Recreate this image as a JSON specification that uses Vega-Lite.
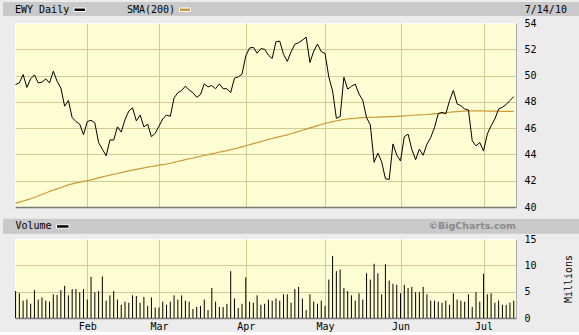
{
  "$schema": "https://vega.github.io/schema/vega-lite/v6.json",
  "background": "#ececec",
  "padding": {"left": 2, "top": 1, "right": 0, "bottom": 0},
  "spacing": 5,
  "config": {
    "view": {"fill": "#fdfdd4", "stroke": "#ffffff", "strokeWidth": 1},
    "axis": {"ticks": false, "labelFont": "DejaVu Sans Mono", "labelFontSize": 10, "labelColor": "#000000", "gridColor": "#cfcb95", "gridWidth": 1, "labelFlush": false, "labelOverlap": false, "labelBound": false, "domainColor": "#999999", "titleFont": "DejaVu Sans Mono"},
    "text": {"font": "DejaVu Sans Mono", "fontSize": 10, "color": "#000000"}
  },
  "datasets": {
    "ewy": [
      {"date":"2010-01-04","close":49.32,"sma":40.28,"volume":5.1},
      {"date":"2010-01-05","close":49.44,"sma":40.37,"volume":4.7},
      {"date":"2010-01-06","close":50.08,"sma":40.46,"volume":3.3},
      {"date":"2010-01-07","close":49.1,"sma":40.54,"volume":3.5},
      {"date":"2010-01-08","close":49.75,"sma":40.63,"volume":2.7},
      {"date":"2010-01-11","close":50.05,"sma":40.72,"volume":5.3},
      {"date":"2010-01-12","close":49.44,"sma":40.84,"volume":3.5},
      {"date":"2010-01-13","close":49.5,"sma":40.95,"volume":3.9},
      {"date":"2010-01-14","close":49.75,"sma":41.07,"volume":3.3},
      {"date":"2010-01-15","close":49.44,"sma":41.18,"volume":3.1},
      {"date":"2010-01-19","close":50.33,"sma":41.28,"volume":4.5},
      {"date":"2010-01-20","close":49.57,"sma":41.38,"volume":4.4},
      {"date":"2010-01-21","close":49.06,"sma":41.48,"volume":5.3},
      {"date":"2010-01-22","close":47.67,"sma":41.58,"volume":6.1},
      {"date":"2010-01-25","close":48.1,"sma":41.68,"volume":4.3},
      {"date":"2010-01-26","close":46.8,"sma":41.76,"volume":5.5},
      {"date":"2010-01-27","close":46.5,"sma":41.83,"volume":5.5},
      {"date":"2010-01-28","close":46.3,"sma":41.89,"volume":4.9},
      {"date":"2010-01-29","close":45.5,"sma":41.95,"volume":5.5},
      {"date":"2010-02-01","close":46.5,"sma":42.0,"volume":3.5},
      {"date":"2010-02-02","close":46.6,"sma":42.07,"volume":7.8},
      {"date":"2010-02-03","close":46.4,"sma":42.14,"volume":4.9},
      {"date":"2010-02-04","close":44.9,"sma":42.22,"volume":5.1},
      {"date":"2010-02-05","close":44.4,"sma":42.29,"volume":7.9},
      {"date":"2010-02-08","close":43.9,"sma":42.36,"volume":3.3},
      {"date":"2010-02-09","close":45.1,"sma":42.42,"volume":4.3},
      {"date":"2010-02-10","close":45.1,"sma":42.49,"volume":5.1},
      {"date":"2010-02-11","close":46.1,"sma":42.55,"volume":3.5},
      {"date":"2010-02-12","close":45.7,"sma":42.62,"volume":2.5},
      {"date":"2010-02-16","close":46.65,"sma":42.69,"volume":3.1},
      {"date":"2010-02-17","close":47.3,"sma":42.75,"volume":2.9},
      {"date":"2010-02-18","close":47.55,"sma":42.8,"volume":4.3},
      {"date":"2010-02-19","close":46.55,"sma":42.86,"volume":4.2},
      {"date":"2010-02-22","close":47.0,"sma":42.92,"volume":2.9},
      {"date":"2010-02-23","close":46.1,"sma":42.97,"volume":4.0},
      {"date":"2010-02-24","close":46.3,"sma":43.03,"volume":2.3},
      {"date":"2010-02-25","close":45.35,"sma":43.08,"volume":3.9},
      {"date":"2010-02-26","close":45.6,"sma":43.13,"volume":2.0},
      {"date":"2010-03-01","close":46.15,"sma":43.18,"volume":2.0},
      {"date":"2010-03-02","close":46.7,"sma":43.23,"volume":3.1},
      {"date":"2010-03-03","close":47.0,"sma":43.27,"volume":2.5},
      {"date":"2010-03-04","close":46.9,"sma":43.33,"volume":3.1},
      {"date":"2010-03-05","close":48.3,"sma":43.4,"volume":4.3},
      {"date":"2010-03-08","close":48.7,"sma":43.46,"volume":3.5},
      {"date":"2010-03-09","close":48.86,"sma":43.53,"volume":4.3},
      {"date":"2010-03-10","close":49.2,"sma":43.6,"volume":3.3},
      {"date":"2010-03-11","close":48.9,"sma":43.67,"volume":3.1},
      {"date":"2010-03-12","close":48.7,"sma":43.73,"volume":1.7},
      {"date":"2010-03-15","close":48.35,"sma":43.8,"volume":2.1},
      {"date":"2010-03-16","close":48.55,"sma":43.86,"volume":2.3},
      {"date":"2010-03-17","close":49.37,"sma":43.92,"volume":3.5},
      {"date":"2010-03-18","close":49.14,"sma":43.98,"volume":1.5},
      {"date":"2010-03-19","close":49.24,"sma":44.04,"volume":5.7},
      {"date":"2010-03-22","close":49.0,"sma":44.11,"volume":3.1},
      {"date":"2010-03-23","close":49.37,"sma":44.17,"volume":2.1},
      {"date":"2010-03-24","close":49.0,"sma":44.23,"volume":2.1},
      {"date":"2010-03-25","close":49.0,"sma":44.29,"volume":2.7},
      {"date":"2010-03-26","close":48.7,"sma":44.36,"volume":8.9},
      {"date":"2010-03-29","close":49.8,"sma":44.43,"volume":3.7},
      {"date":"2010-03-30","close":49.9,"sma":44.5,"volume":1.9},
      {"date":"2010-03-31","close":50.1,"sma":44.58,"volume":2.7},
      {"date":"2010-04-01","close":51.5,"sma":44.66,"volume":7.7},
      {"date":"2010-04-05","close":52.1,"sma":44.74,"volume":3.1},
      {"date":"2010-04-06","close":52.15,"sma":44.82,"volume":2.9},
      {"date":"2010-04-07","close":51.7,"sma":44.9,"volume":4.3},
      {"date":"2010-04-08","close":52.05,"sma":44.98,"volume":2.5},
      {"date":"2010-04-09","close":52.0,"sma":45.06,"volume":2.7},
      {"date":"2010-04-12","close":51.55,"sma":45.14,"volume":3.5},
      {"date":"2010-04-13","close":51.3,"sma":45.21,"volume":3.3},
      {"date":"2010-04-14","close":52.58,"sma":45.28,"volume":3.7},
      {"date":"2010-04-15","close":52.62,"sma":45.35,"volume":3.3},
      {"date":"2010-04-16","close":51.62,"sma":45.42,"volume":4.5},
      {"date":"2010-04-19","close":51.08,"sma":45.49,"volume":4.5},
      {"date":"2010-04-20","close":51.8,"sma":45.57,"volume":2.9},
      {"date":"2010-04-21","close":52.38,"sma":45.66,"volume":5.5},
      {"date":"2010-04-22","close":52.5,"sma":45.75,"volume":5.9},
      {"date":"2010-04-23","close":52.7,"sma":45.84,"volume":3.7},
      {"date":"2010-04-26","close":52.92,"sma":45.93,"volume":1.5},
      {"date":"2010-04-27","close":51.0,"sma":46.02,"volume":4.5},
      {"date":"2010-04-28","close":51.85,"sma":46.1,"volume":3.1},
      {"date":"2010-04-29","close":52.4,"sma":46.19,"volume":2.7},
      {"date":"2010-04-30","close":51.82,"sma":46.28,"volume":3.3},
      {"date":"2010-05-03","close":51.68,"sma":46.36,"volume":2.3},
      {"date":"2010-05-04","close":49.9,"sma":46.43,"volume":7.3},
      {"date":"2010-05-05","close":48.83,"sma":46.5,"volume":11.8},
      {"date":"2010-05-06","close":46.75,"sma":46.56,"volume":8.9},
      {"date":"2010-05-07","close":46.88,"sma":46.61,"volume":9.2},
      {"date":"2010-05-10","close":49.87,"sma":46.66,"volume":5.7},
      {"date":"2010-05-11","close":48.97,"sma":46.7,"volume":5.1},
      {"date":"2010-05-12","close":49.18,"sma":46.73,"volume":4.3},
      {"date":"2010-05-13","close":49.35,"sma":46.75,"volume":3.3},
      {"date":"2010-05-14","close":48.6,"sma":46.78,"volume":4.7},
      {"date":"2010-05-17","close":48.13,"sma":46.8,"volume":3.5},
      {"date":"2010-05-18","close":46.8,"sma":46.81,"volume":8.5},
      {"date":"2010-05-19","close":46.25,"sma":46.82,"volume":7.3},
      {"date":"2010-05-20","close":43.4,"sma":46.83,"volume":10.3},
      {"date":"2010-05-21","close":44.1,"sma":46.84,"volume":8.5},
      {"date":"2010-05-24","close":43.45,"sma":46.85,"volume":4.5},
      {"date":"2010-05-25","close":42.15,"sma":46.86,"volume":10.2},
      {"date":"2010-05-26","close":42.1,"sma":46.87,"volume":7.1},
      {"date":"2010-05-27","close":44.8,"sma":46.88,"volume":6.5},
      {"date":"2010-05-28","close":43.95,"sma":46.9,"volume":6.3},
      {"date":"2010-06-01","close":43.5,"sma":46.92,"volume":4.7},
      {"date":"2010-06-02","close":45.35,"sma":46.94,"volume":6.3},
      {"date":"2010-06-03","close":45.55,"sma":46.96,"volume":5.7},
      {"date":"2010-06-04","close":44.38,"sma":46.98,"volume":5.9},
      {"date":"2010-06-07","close":43.6,"sma":47.0,"volume":4.9},
      {"date":"2010-06-08","close":44.4,"sma":47.01,"volume":4.9},
      {"date":"2010-06-09","close":43.94,"sma":47.02,"volume":5.9},
      {"date":"2010-06-10","close":44.78,"sma":47.04,"volume":4.5},
      {"date":"2010-06-11","close":45.28,"sma":47.06,"volume":3.3},
      {"date":"2010-06-14","close":46.05,"sma":47.09,"volume":3.3},
      {"date":"2010-06-15","close":47.1,"sma":47.12,"volume":3.1},
      {"date":"2010-06-16","close":47.2,"sma":47.15,"volume":2.9},
      {"date":"2010-06-17","close":47.08,"sma":47.18,"volume":3.3},
      {"date":"2010-06-18","close":48.1,"sma":47.21,"volume":2.5},
      {"date":"2010-06-21","close":48.87,"sma":47.24,"volume":4.7},
      {"date":"2010-06-22","close":47.85,"sma":47.26,"volume":3.5},
      {"date":"2010-06-23","close":47.7,"sma":47.28,"volume":3.3},
      {"date":"2010-06-24","close":47.46,"sma":47.3,"volume":3.1},
      {"date":"2010-06-25","close":47.38,"sma":47.31,"volume":4.5},
      {"date":"2010-06-28","close":45.04,"sma":47.32,"volume":2.1},
      {"date":"2010-06-29","close":44.65,"sma":47.32,"volume":4.9},
      {"date":"2010-06-30","close":44.9,"sma":47.32,"volume":3.1},
      {"date":"2010-07-01","close":44.27,"sma":47.31,"volume":8.4},
      {"date":"2010-07-02","close":45.55,"sma":47.3,"volume":4.5},
      {"date":"2010-07-06","close":46.18,"sma":47.3,"volume":4.7},
      {"date":"2010-07-07","close":46.7,"sma":47.29,"volume":2.9},
      {"date":"2010-07-08","close":47.46,"sma":47.29,"volume":3.3},
      {"date":"2010-07-09","close":47.59,"sma":47.28,"volume":2.5},
      {"date":"2010-07-12","close":47.8,"sma":47.28,"volume":2.5},
      {"date":"2010-07-13","close":48.1,"sma":47.27,"volume":2.9},
      {"date":"2010-07-14","close":48.4,"sma":47.27,"volume":3.3}
    ]
  },
  "vconcat": [
    {
      "width": 501,
      "height": 184,
      "layer": [
        {
          "data": {"name": "ewy"},
          "transform": [{"window": [{"op": "row_number", "as": "n"}], "sort": [{"field": "date"}]}],
          "mark": {"type": "line", "color": "#cc9933", "strokeWidth": 1.2},
          "encoding": {
            "x": {"field": "n", "type": "quantitative", "scale": {"domain": [0.85, 133.6], "nice": false, "zero": false},
                  "axis": {"orient": "bottom", "title": null, "values": [20, 39, 62, 83, 103, 125], "labels": false, "grid": true, "domain": true, "domainColor": "#7a7a7a", "domainWidth": 1.5}},
            "y": {"field": "sma", "type": "quantitative", "scale": {"domain": [40, 54], "nice": false, "zero": false},
                  "axis": {"orient": "right", "title": null, "values": [40, 42, 44, 46, 48, 50, 52, 54], "grid": true, "labelPadding": 8, "domain": true, "domainColor": "#aaaaaa",
                           "gridOpacity": {"condition": {"test": "datum.value == 40 || datum.value == 54", "value": 0}, "value": 1}}}
          }
        },
        {
          "data": {"name": "ewy"},
          "transform": [{"window": [{"op": "row_number", "as": "n"}], "sort": [{"field": "date"}]}],
          "mark": {"type": "line", "color": "#000000", "strokeWidth": 1},
          "encoding": {
            "x": {"field": "n", "type": "quantitative", "scale": {"domain": [0.85, 133.6], "nice": false, "zero": false},
                  "axis": {"orient": "bottom", "title": null, "values": [20, 39, 62, 83, 103, 125], "labels": false, "grid": true, "domain": true, "domainColor": "#7a7a7a", "domainWidth": 1.5}},
            "y": {"field": "close", "type": "quantitative", "scale": {"domain": [40, 54], "nice": false, "zero": false},
                  "axis": {"orient": "right", "title": null, "values": [40, 42, 44, 46, 48, 50, 52, 54], "grid": true, "labelPadding": 8, "domain": true, "domainColor": "#aaaaaa",
                           "gridOpacity": {"condition": {"test": "datum.value == 40 || datum.value == 54", "value": 0}, "value": 1}}}
          }
        },
        {
          "data": {"values": [{"label": "EWY Daily"}]},
          "mark": {"type": "rect", "color": "#c9c9c9"},
          "encoding": {
            "x": {"datum": -2.33, "type": "quantitative", "scale": {"domain": [0.85, 133.6], "nice": false, "zero": false},
                  "axis": {"orient": "bottom", "title": null, "values": [20, 39, 62, 83, 103, 125], "labels": false, "grid": true, "domain": true, "domainColor": "#7a7a7a", "domainWidth": 1.5}},
            "x2": {"datum": 150.3},
            "y": {"datum": 55.6, "type": "quantitative", "scale": {"domain": [40, 54], "nice": false, "zero": false},
                  "axis": {"orient": "right", "title": null, "values": [40, 42, 44, 46, 48, 50, 52, 54], "grid": true, "labelPadding": 8, "domain": true, "domainColor": "#aaaaaa",
                           "gridOpacity": {"condition": {"test": "datum.value == 40 || datum.value == 54", "value": 0}, "value": 1}}},
            "y2": {"datum": 54.53}
          }
        },
        {
          "data": {"values": [{"label": "EWY Daily"}]},
          "mark": {"type": "text", "align": "left", "baseline": "alphabetic"},
          "encoding": {
            "text": {"field": "label"},
            "x": {"datum": 0.85, "type": "quantitative", "scale": {"domain": [0.85, 133.6], "nice": false, "zero": false},
                  "axis": {"orient": "bottom", "title": null, "values": [20, 39, 62, 83, 103, 125], "labels": false, "grid": true, "domain": true, "domainColor": "#7a7a7a", "domainWidth": 1.5}},
            "y": {"datum": 54.78, "type": "quantitative", "scale": {"domain": [40, 54], "nice": false, "zero": false},
                  "axis": {"orient": "right", "title": null, "values": [40, 42, 44, 46, 48, 50, 52, 54], "grid": true, "labelPadding": 8, "domain": true, "domainColor": "#aaaaaa",
                           "gridOpacity": {"condition": {"test": "datum.value == 40 || datum.value == 54", "value": 0}, "value": 1}}}
          }
        },
        {
          "data": {"values": [{"label": "EWY Daily"}]},
          "mark": {"type": "rect", "color": "#000000", "stroke": "#ffffff", "strokeWidth": 1},
          "encoding": {
            "x": {"datum": 16.48, "type": "quantitative", "scale": {"domain": [0.85, 133.6], "nice": false, "zero": false},
                  "axis": {"orient": "bottom", "title": null, "values": [20, 39, 62, 83, 103, 125], "labels": false, "grid": true, "domain": true, "domainColor": "#7a7a7a", "domainWidth": 1.5}},
            "x2": {"datum": 19.53},
            "y": {"datum": 55.14, "type": "quantitative", "scale": {"domain": [40, 54], "nice": false, "zero": false},
                  "axis": {"orient": "right", "title": null, "values": [40, 42, 44, 46, 48, 50, 52, 54], "grid": true, "labelPadding": 8, "domain": true, "domainColor": "#aaaaaa",
                           "gridOpacity": {"condition": {"test": "datum.value == 40 || datum.value == 54", "value": 0}, "value": 1}}},
            "y2": {"datum": 54.875}
          }
        },
        {
          "data": {"values": [{"label": "SMA(200)"}]},
          "mark": {"type": "text", "align": "left", "baseline": "alphabetic"},
          "encoding": {
            "text": {"field": "label"},
            "x": {"datum": 30.52, "type": "quantitative", "scale": {"domain": [0.85, 133.6], "nice": false, "zero": false},
                  "axis": {"orient": "bottom", "title": null, "values": [20, 39, 62, 83, 103, 125], "labels": false, "grid": true, "domain": true, "domainColor": "#7a7a7a", "domainWidth": 1.5}},
            "y": {"datum": 54.78, "type": "quantitative", "scale": {"domain": [40, 54], "nice": false, "zero": false},
                  "axis": {"orient": "right", "title": null, "values": [40, 42, 44, 46, 48, 50, 52, 54], "grid": true, "labelPadding": 8, "domain": true, "domainColor": "#aaaaaa",
                           "gridOpacity": {"condition": {"test": "datum.value == 40 || datum.value == 54", "value": 0}, "value": 1}}}
          }
        },
        {
          "data": {"values": [{"label": "SMA(200)"}]},
          "mark": {"type": "rect", "color": "#cc9933", "stroke": "#ffffff", "strokeWidth": 1},
          "encoding": {
            "x": {"datum": 44.44, "type": "quantitative", "scale": {"domain": [0.85, 133.6], "nice": false, "zero": false},
                  "axis": {"orient": "bottom", "title": null, "values": [20, 39, 62, 83, 103, 125], "labels": false, "grid": true, "domain": true, "domainColor": "#7a7a7a", "domainWidth": 1.5}},
            "x2": {"datum": 47.35},
            "y": {"datum": 55.14, "type": "quantitative", "scale": {"domain": [40, 54], "nice": false, "zero": false},
                  "axis": {"orient": "right", "title": null, "values": [40, 42, 44, 46, 48, 50, 52, 54], "grid": true, "labelPadding": 8, "domain": true, "domainColor": "#aaaaaa",
                           "gridOpacity": {"condition": {"test": "datum.value == 40 || datum.value == 54", "value": 0}, "value": 1}}},
            "y2": {"datum": 54.875}
          }
        },
        {
          "data": {"values": [{"label": "7/14/10"}]},
          "mark": {"type": "text", "align": "right", "baseline": "alphabetic"},
          "encoding": {
            "text": {"field": "label"},
            "x": {"datum": 147.1, "type": "quantitative", "scale": {"domain": [0.85, 133.6], "nice": false, "zero": false},
                  "axis": {"orient": "bottom", "title": null, "values": [20, 39, 62, 83, 103, 125], "labels": false, "grid": true, "domain": true, "domainColor": "#7a7a7a", "domainWidth": 1.5}},
            "y": {"datum": 54.78, "type": "quantitative", "scale": {"domain": [40, 54], "nice": false, "zero": false},
                  "axis": {"orient": "right", "title": null, "values": [40, 42, 44, 46, 48, 50, 52, 54], "grid": true, "labelPadding": 8, "domain": true, "domainColor": "#aaaaaa",
                           "gridOpacity": {"condition": {"test": "datum.value == 40 || datum.value == 54", "value": 0}, "value": 1}}}
          }
        }
      ]
    },
    {
      "width": 501,
      "height": 79,
      "layer": [
        {
          "data": {"name": "ewy"},
          "transform": [{"window": [{"op": "row_number", "as": "n"}], "sort": [{"field": "date"}]}],
          "mark": {"type": "rule", "color": "#000000", "strokeWidth": 1},
          "encoding": {
            "x": {"field": "n", "type": "quantitative", "scale": {"domain": [0.85, 133.6], "nice": false, "zero": false},
                  "axis": {"orient": "bottom", "title": null, "values": [20, 39, 62, 83, 103, 125], "grid": true, "labelPadding": 3, "domain": true, "domainColor": "#7a7a7a", "domainWidth": 1.5,
                           "labelExpr": "datum.value == 20 ? 'Feb' : datum.value == 39 ? 'Mar' : datum.value == 62 ? 'Apr' : datum.value == 83 ? 'May' : datum.value == 103 ? 'Jun' : 'Jul'"}},
            "y": {"field": "volume", "type": "quantitative", "scale": {"domain": [0, 15], "nice": false, "zero": false},
                  "axis": {"orient": "right", "title": "Millions", "titleAngle": 270, "titleFontWeight": "normal", "titleFontSize": 10, "titlePadding": 37, "values": [0, 5, 10, 15], "grid": true, "labelPadding": 8, "domain": true, "domainColor": "#aaaaaa",
                           "gridOpacity": {"condition": {"test": "datum.value == 0 || datum.value == 15", "value": 0}, "value": 1}}},
            "y2": {"datum": 0}
          }
        },
        {
          "data": {"values": [{"label": "Volume"}]},
          "mark": {"type": "rect", "color": "#c9c9c9"},
          "encoding": {
            "x": {"datum": -2.33, "type": "quantitative", "scale": {"domain": [0.85, 133.6], "nice": false, "zero": false},
                  "axis": {"orient": "bottom", "title": null, "values": [20, 39, 62, 83, 103, 125], "grid": true, "labelPadding": 3, "domain": true, "domainColor": "#7a7a7a", "domainWidth": 1.5,
                           "labelExpr": "datum.value == 20 ? 'Feb' : datum.value == 39 ? 'Mar' : datum.value == 62 ? 'Apr' : datum.value == 83 ? 'May' : datum.value == 103 ? 'Jun' : 'Jul'"}},
            "x2": {"datum": 150.3},
            "y": {"datum": 18.85, "type": "quantitative", "scale": {"domain": [0, 15], "nice": false, "zero": false},
                  "axis": {"orient": "right", "title": "Millions", "titleAngle": 270, "titleFontWeight": "normal", "titleFontSize": 10, "titlePadding": 37, "values": [0, 5, 10, 15], "grid": true, "labelPadding": 8, "domain": true, "domainColor": "#aaaaaa",
                           "gridOpacity": {"condition": {"test": "datum.value == 0 || datum.value == 15", "value": 0}, "value": 1}}},
            "y2": {"datum": 16.0}
          }
        },
        {
          "data": {"values": [{"label": "Volume"}]},
          "mark": {"type": "text", "align": "left", "baseline": "alphabetic"},
          "encoding": {
            "text": {"field": "label"},
            "x": {"datum": 0.95, "type": "quantitative", "scale": {"domain": [0.85, 133.6], "nice": false, "zero": false},
                  "axis": {"orient": "bottom", "title": null, "values": [20, 39, 62, 83, 103, 125], "grid": true, "labelPadding": 3, "domain": true, "domainColor": "#7a7a7a", "domainWidth": 1.5,
                           "labelExpr": "datum.value == 20 ? 'Feb' : datum.value == 39 ? 'Mar' : datum.value == 62 ? 'Apr' : datum.value == 83 ? 'May' : datum.value == 103 ? 'Jun' : 'Jul'"}},
            "y": {"datum": 16.82, "type": "quantitative", "scale": {"domain": [0, 15], "nice": false, "zero": false},
                  "axis": {"orient": "right", "title": "Millions", "titleAngle": 270, "titleFontWeight": "normal", "titleFontSize": 10, "titlePadding": 37, "values": [0, 5, 10, 15], "grid": true, "labelPadding": 8, "domain": true, "domainColor": "#aaaaaa",
                           "gridOpacity": {"condition": {"test": "datum.value == 0 || datum.value == 15", "value": 0}, "value": 1}}}
          }
        },
        {
          "data": {"values": [{"label": "Volume"}]},
          "mark": {"type": "rect", "color": "#000000", "stroke": "#ffffff", "strokeWidth": 1},
          "encoding": {
            "x": {"datum": 11.85, "type": "quantitative", "scale": {"domain": [0.85, 133.6], "nice": false, "zero": false},
                  "axis": {"orient": "bottom", "title": null, "values": [20, 39, 62, 83, 103, 125], "grid": true, "labelPadding": 3, "domain": true, "domainColor": "#7a7a7a", "domainWidth": 1.5,
                           "labelExpr": "datum.value == 20 ? 'Feb' : datum.value == 39 ? 'Mar' : datum.value == 62 ? 'Apr' : datum.value == 83 ? 'May' : datum.value == 103 ? 'Jun' : 'Jul'"}},
            "x2": {"datum": 15.16},
            "y": {"datum": 17.72, "type": "quantitative", "scale": {"domain": [0, 15], "nice": false, "zero": false},
                  "axis": {"orient": "right", "title": "Millions", "titleAngle": 270, "titleFontWeight": "normal", "titleFontSize": 10, "titlePadding": 37, "values": [0, 5, 10, 15], "grid": true, "labelPadding": 8, "domain": true, "domainColor": "#aaaaaa",
                           "gridOpacity": {"condition": {"test": "datum.value == 0 || datum.value == 15", "value": 0}, "value": 1}}},
            "y2": {"datum": 17.05}
          }
        },
        {
          "data": {"values": [{"label": "©BigCharts.com"}]},
          "mark": {"type": "text", "align": "right", "baseline": "alphabetic", "font": "DejaVu Sans", "fontWeight": "bold", "fontSize": 9.5, "color": "#8a8a8a"},
          "encoding": {
            "text": {"field": "label"},
            "x": {"datum": 133.6, "type": "quantitative", "scale": {"domain": [0.85, 133.6], "nice": false, "zero": false},
                  "axis": {"orient": "bottom", "title": null, "values": [20, 39, 62, 83, 103, 125], "grid": true, "labelPadding": 3, "domain": true, "domainColor": "#7a7a7a", "domainWidth": 1.5,
                           "labelExpr": "datum.value == 20 ? 'Feb' : datum.value == 39 ? 'Mar' : datum.value == 62 ? 'Apr' : datum.value == 83 ? 'May' : datum.value == 103 ? 'Jun' : 'Jul'"}},
            "y": {"datum": 16.82, "type": "quantitative", "scale": {"domain": [0, 15], "nice": false, "zero": false},
                  "axis": {"orient": "right", "title": "Millions", "titleAngle": 270, "titleFontWeight": "normal", "titleFontSize": 10, "titlePadding": 37, "values": [0, 5, 10, 15], "grid": true, "labelPadding": 8, "domain": true, "domainColor": "#aaaaaa",
                           "gridOpacity": {"condition": {"test": "datum.value == 0 || datum.value == 15", "value": 0}, "value": 1}}}
          }
        }
      ]
    }
  ]
}
